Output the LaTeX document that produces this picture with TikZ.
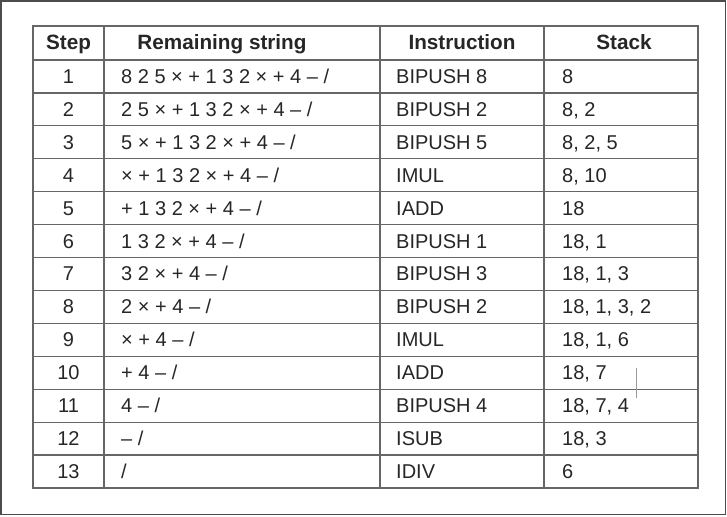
\documentclass[tikz,border=0pt]{standalone}
\usepackage{fontspec}
\setmainfont{Liberation Sans}
\tikzset{
  cell/.style={inner sep=0pt, text height=14pt, text depth=0pt, text=black!85,
    font=\fontsize{20}{24}\selectfont},
  head/.style={cell, font=\fontsize{20.7}{24}\selectfont\bfseries},
  rule/.style={draw=black!60, line width=1.2pt}
}
\begin{document}
\begin{tikzpicture}[x=1pt, y=-1pt]
  \useasboundingbox (0,0) rectangle (727,516);
  \draw[black!70, line width=1.5pt] (1,1) rectangle (725.5,514.5);
  % table lines
  \draw[rule] (33,26) rectangle (698,488);
  \foreach \k in {0,...,12}
    \draw[rule] (33,{60+32.92*\k}) -- (698,{60+32.92*\k});
  \draw[rule] (104,26) -- (104,488);
  \draw[rule] (380,26) -- (380,488);
  \draw[rule] (544,26) -- (544,488);
  % header
  \node[head] (hstep) at (68.5,43) {Step};
  \node[head] (hrem) at (222,43) {Remaining string};
  \node[head] (hins) at (462,43) {Instruction};
  \node[head] (hstk) at (624,43) {Stack};
  % rows
  \foreach \i/\rem/\ins/\stk in {
      1/{8 2 5 × + 1 3 2 × + 4 – /}/{BIPUSH 8}/{8},
      2/{2 5 × + 1 3 2 × + 4 – /}/{BIPUSH 2}/{8, 2},
      3/{5 × + 1 3 2 × + 4 – /}/{BIPUSH 5}/{8, 2, 5},
      4/{× + 1 3 2 × + 4 – /}/{IMUL}/{8, 10},
      5/{+ 1 3 2 × + 4 – /}/{IADD}/{18},
      6/{1 3 2 × + 4 – /}/{BIPUSH 1}/{18, 1},
      7/{3 2 × + 4 – /}/{BIPUSH 3}/{18, 1, 3},
      8/{2 × + 4 – /}/{BIPUSH 2}/{18, 1, 3, 2},
      9/{× + 4 – /}/{IMUL}/{18, 1, 6},
      10/{+ 4 – /}/{IADD}/{18, 7},
      11/{4 – /}/{BIPUSH 4}/{18, 7, 4},
      12/{– /}/{ISUB}/{18, 3},
      13/{/}/{IDIV}/{6}} {
    \pgfmathsetmacro\yy{60+32.92*(\i-0.5)}
    \node[cell] (s\i) at (68.5,\yy) {\i};
    \node[cell, anchor=west] (r\i) at (121,\yy) {\rem};
    \node[cell, anchor=west] (n\i) at (396,\yy) {\ins};
    \node[cell, anchor=west] (k\i) at (562,\yy) {\stk};
  }
  \draw[black!40, line width=0.8pt] (636,368) -- (636,398);
\end{tikzpicture}
\end{document}
